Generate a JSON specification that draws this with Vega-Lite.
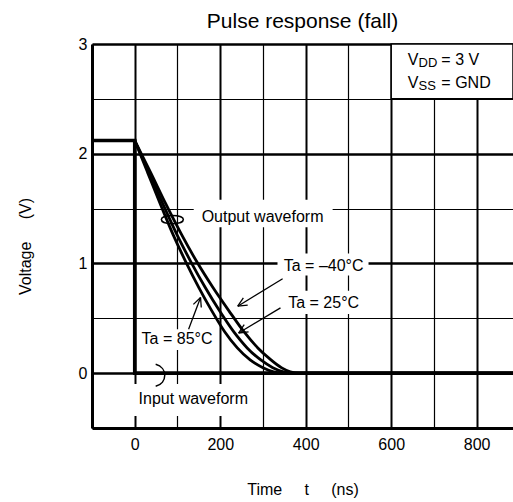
{
  "$schema": "https://vega.github.io/schema/vega-lite/v6.json",
  "width": 421,
  "height": 384,
  "autosize": {"type": "none"},
  "padding": {"left": 92, "top": 44, "right": 0, "bottom": 74},
  "background": "white",
  "config": {"view": {"stroke": null}, "text": {"font": "Liberation Sans", "color": "black"}},
  "title": {"text": "Pulse response (fall)", "fontSize": 21, "font": "Liberation Sans", "fontWeight": "normal", "color": "black", "anchor": "middle", "frame": "group", "offset": 4},
  "datasets": {
    "masks": [
      {"t": 138, "t2": 463, "v": 1.58, "v2": 1.33},
      {"t": -2, "t2": 272, "v": -0.1, "v2": -0.39},
      {"t": 334, "t2": 547, "v": 1.09, "v2": 0.89},
      {"t": 346, "t2": 533, "v": 0.75, "v2": 0.54},
      {"t": 9, "t2": 192, "v": 0.4, "v2": 0.21}
    ],
    "box": [{"t": 600, "t2": 885, "v": 2.5, "v2": 3}],
    "input": [
      {"t": -100, "v": 2.12},
      {"t": 0, "v": 2.12},
      {"t": 0, "v": 0},
      {"t": 885, "v": 0}
    ],
    "output": [
      {"series": "85", "t": 0, "v": 2.12},
      {"series": "85", "t": 30, "v": 1.83},
      {"series": "85", "t": 60, "v": 1.54},
      {"series": "85", "t": 90, "v": 1.26},
      {"series": "85", "t": 120, "v": 1.01},
      {"series": "85", "t": 150, "v": 0.78},
      {"series": "85", "t": 180, "v": 0.57},
      {"series": "85", "t": 210, "v": 0.38},
      {"series": "85", "t": 240, "v": 0.23},
      {"series": "85", "t": 270, "v": 0.12},
      {"series": "85", "t": 300, "v": 0.05},
      {"series": "85", "t": 325, "v": 0.012},
      {"series": "85", "t": 348, "v": 0},
      {"series": "85", "t": 885, "v": 0},
      {"series": "25", "t": 0, "v": 2.12},
      {"series": "25", "t": 33, "v": 1.83},
      {"series": "25", "t": 66, "v": 1.54},
      {"series": "25", "t": 99, "v": 1.26},
      {"series": "25", "t": 132, "v": 1.01},
      {"series": "25", "t": 165, "v": 0.78},
      {"series": "25", "t": 198, "v": 0.57},
      {"series": "25", "t": 231, "v": 0.38},
      {"series": "25", "t": 263, "v": 0.23},
      {"series": "25", "t": 295, "v": 0.12},
      {"series": "25", "t": 323, "v": 0.05},
      {"series": "25", "t": 348, "v": 0.012},
      {"series": "25", "t": 370, "v": 0},
      {"series": "25", "t": 885, "v": 0},
      {"series": "-40", "t": 0, "v": 2.12},
      {"series": "-40", "t": 37, "v": 1.83},
      {"series": "-40", "t": 73, "v": 1.54},
      {"series": "-40", "t": 110, "v": 1.26},
      {"series": "-40", "t": 146, "v": 1.01},
      {"series": "-40", "t": 183, "v": 0.78},
      {"series": "-40", "t": 220, "v": 0.57},
      {"series": "-40", "t": 255, "v": 0.38},
      {"series": "-40", "t": 288, "v": 0.23},
      {"series": "-40", "t": 316, "v": 0.13},
      {"series": "-40", "t": 343, "v": 0.05},
      {"series": "-40", "t": 364, "v": 0.012},
      {"series": "-40", "t": 385, "v": 0},
      {"series": "-40", "t": 885, "v": 0}
    ],
    "arrows": [
      {"t": 346, "v": 0.86, "t2": 241, "v2": 0.61},
      {"t": 264.3, "v": 0.62, "t2": 241, "v2": 0.61},
      {"t": 254.1, "v": 0.686, "t2": 241, "v2": 0.61},
      {"t": 341, "v": 0.595, "t2": 243, "v2": 0.366},
      {"t": 266.3, "v": 0.376, "t2": 243, "v2": 0.366},
      {"t": 256.1, "v": 0.442, "t2": 243, "v2": 0.366},
      {"t": 126, "v": 0.4, "t2": 154, "v2": 0.69},
      {"t": 137.2, "v": 0.627, "t2": 154, "v2": 0.69},
      {"t": 155.6, "v": 0.599, "t2": 154, "v2": 0.69}
    ],
    "loops": [
      {"t": 88, "v": 1.4, "kind": "output"},
      {"t": 58, "v": -0.02, "kind": "input"}
    ],
    "labels": [
      {"t": 299, "v": 1.42, "text": "Output waveform"},
      {"t": 137, "v": -0.24, "text": "Input waveform"},
      {"t": 442, "v": 0.98, "text": "Ta = –40°C"},
      {"t": 442, "v": 0.64, "text": "Ta = 25°C"},
      {"t": 99, "v": 0.31, "text": "Ta = 85°C"}
    ],
    "supply": [
      {"t": 639, "v": 2.85, "main": "V", "sub": "DD", "rest": "= 3 V"},
      {"t": 639, "v": 2.64, "main": "V", "sub": "SS", "rest": "= GND"}
    ]
  },
  "encoding": {
    "x": {
      "field": "t", "type": "quantitative",
      "scale": {"domain": [-100, 885], "nice": false, "zero": false},
      "axis": {
        "values": [-100, 0, 100, 200, 300, 400, 500, 600, 700, 800],
        "labelExpr": "datum.value >= 0 && datum.value % 200 === 0 ? format(datum.value, 'd') : ''",
        "grid": true, "gridColor": "black",
        "gridWidth": {"condition": {"test": "datum.value % 200 === 0", "value": 2}, "value": 1.2},
        "gridOpacity": 1,
        "domainColor": "black", "domainWidth": 3,
        "ticks": false,
        "labelFont": "Liberation Sans", "labelFontSize": 16, "labelColor": "black", "labelPadding": 8,
        "labelOverlap": false, "labelFlush": false,
        "title": "Time\u00a0\u00a0\u00a0\u00a0\u00a0t\u00a0\u00a0\u00a0\u00a0\u00a0(ns)",
        "titleFont": "Liberation Sans", "titleFontSize": 16, "titleFontWeight": "normal", "titleColor": "black", "titlePadding": 29
      }
    },
    "y": {
      "field": "v", "type": "quantitative",
      "scale": {"domain": [-0.5, 3], "nice": false, "zero": false},
      "axis": {
        "values": [-0.5, 0, 0.5, 1, 1.5, 2, 2.5, 3],
        "labelExpr": "datum.value >= 0 && datum.value % 1 === 0 ? format(datum.value, 'd') : ''",
        "grid": true, "gridColor": "black",
        "gridWidth": {"condition": {"test": "datum.value % 1 === 0", "value": 2.4}, "value": 1.1},
        "gridOpacity": 1,
        "domainColor": "black", "domainWidth": 3,
        "ticks": false,
        "labelFont": "Liberation Sans", "labelFontSize": 16, "labelColor": "black", "labelPadding": 5,
        "labelOverlap": false, "labelFlush": false,
        "title": "Voltage\u00a0\u00a0\u00a0\u00a0\u00a0(V)",
        "titleFont": "Liberation Sans", "titleFontSize": 16, "titleFontWeight": "normal", "titleColor": "black",
        "titleX": -67, "titleY": 202, "titleAngle": -90, "titleAlign": "center", "titleBaseline": "middle"
      }
    }
  },
  "layer": [
    {
      "data": {"name": "masks"},
      "mark": {"type": "rect", "fill": "white", "stroke": null},
      "encoding": {"x2": {"field": "t2"}, "y2": {"field": "v2"}}
    },
    {
      "data": {"name": "box"},
      "mark": {"type": "rect", "fill": "white", "stroke": "black", "strokeWidth": 1.5},
      "encoding": {"x2": {"field": "t2"}, "y2": {"field": "v2"}}
    },
    {
      "data": {"values": [{}]},
      "mark": {"type": "rule", "color": "black", "strokeWidth": 3},
      "encoding": {"x": {"datum": -100}, "x2": {"datum": 885}, "y": {"datum": 3}}
    },
    {
      "data": {"name": "input"},
      "mark": {"type": "line", "color": "black", "strokeWidth": 3.6, "strokeJoin": "miter"},
      "encoding": {"order": {"value": 0}}
    },
    {
      "data": {"name": "output"},
      "mark": {"type": "line", "color": "black", "strokeWidth": 2.8, "interpolate": "monotone"},
      "encoding": {"detail": {"field": "series"}}
    },
    {
      "data": {"name": "arrows"},
      "mark": {"type": "rule", "color": "black", "strokeWidth": 1.3},
      "encoding": {"x2": {"field": "t2"}, "y2": {"field": "v2"}}
    },
    {
      "data": {"name": "loops"},
      "mark": {"type": "point", "filled": false, "strokeWidth": 1.5, "opacity": 1},
      "encoding": {
        "shape": {"field": "kind", "type": "nominal", "scale": {"domain": ["output", "input"], "range": ["M-1,0 C-1,-0.5 1,-0.5 1,0 C1,0.5 -1,0.5 -1,0 Z", "M-0.35,-1 C0.75,-0.7 0.75,0.7 -0.35,1"]}, "legend": null},
        "size": {"value": 484},
        "stroke": {"value": "black"}
      }
    },
    {
      "data": {"name": "labels"},
      "mark": {"type": "text", "fontSize": 16, "align": "center", "baseline": "middle"},
      "encoding": {"text": {"field": "text"}}
    },
    {
      "data": {"name": "supply"},
      "mark": {"type": "text", "fontSize": 16, "align": "left", "baseline": "middle"},
      "encoding": {"text": {"field": "main"}}
    },
    {
      "data": {"name": "supply"},
      "mark": {"type": "text", "fontSize": 13, "align": "left", "baseline": "middle", "dx": 10.7, "dy": 3},
      "encoding": {"text": {"field": "sub"}}
    },
    {
      "data": {"name": "supply"},
      "mark": {"type": "text", "fontSize": 16, "align": "left", "baseline": "middle", "dx": 33.5},
      "encoding": {"text": {"field": "rest"}}
    }
  ]
}
